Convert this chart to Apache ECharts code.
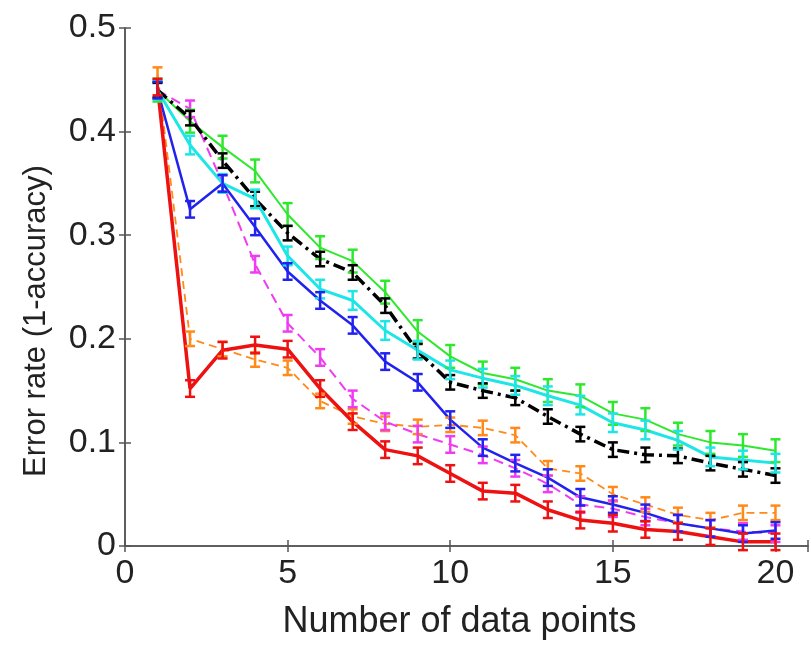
<!DOCTYPE html>
<html>
<head>
<meta charset="utf-8">
<script src="https://cdn.jsdelivr.net/npm/echarts@6/dist/echarts.min.js"></script>
<style>html,body{margin:0;padding:0;background:#fff;}#chart{width:811px;height:646px;}</style>
</head>
<body>
<div id="chart"></div>
<script>
// ---- data ----
const nPoints = [1,2,3,4,5,6,7,8,9,10,11,12,13,14,15,16,17,18,19,20];
const redSeries     = [0.443,0.152,0.189,0.194,0.190,0.152,0.120,0.093,0.087,0.070,0.053,0.051,0.035,0.025,0.022,0.016,0.014,0.009,0.004,0.004];
const orangeSeries  = [0.455,0.200,0.190,0.180,0.172,0.140,0.125,0.118,0.115,0.117,0.114,0.107,0.075,0.070,0.050,0.040,0.030,0.025,0.032,0.032];
const magentaSeries = [0.440,0.422,0.350,0.272,0.215,0.182,0.142,0.120,0.108,0.098,0.088,0.075,0.060,0.040,0.036,0.028,0.022,0.017,0.014,0.012];
const blueSeries    = [0.440,0.325,0.350,0.308,0.265,0.237,0.213,0.178,0.158,0.122,0.095,0.080,0.066,0.047,0.040,0.032,0.022,0.017,0.012,0.015];
const blackSeries   = [0.440,0.413,0.372,0.335,0.302,0.277,0.264,0.232,0.188,0.158,0.150,0.143,0.125,0.108,0.093,0.088,0.087,0.080,0.074,0.068];
const cyanSeries    = [0.440,0.387,0.350,0.335,0.280,0.248,0.237,0.208,0.189,0.170,0.162,0.155,0.145,0.136,0.119,0.112,0.102,0.086,0.083,0.080];
const greenSeries   = [0.440,0.410,0.385,0.362,0.320,0.288,0.275,0.245,0.207,0.183,0.167,0.161,0.150,0.145,0.128,0.122,0.108,0.100,0.097,0.092];
// error-bar half widths per series
const errHalf = {red:0.008, orange:0.007, magenta:0.008, blue:0.008, black:0.007, cyan:0.009, green:0.011};
const xTicks = [0,5,10,15,20];
const yTicks = [0,0.1,0.2,0.3,0.4,0.5];
const xTitle = 'Number of data points';
const yTitle = 'Error rate (1-accuracy)';

const defs = [
  {key:'orange',  data:orangeSeries,  color:'#ff8a1a', width:1.8, type:[8,5]},
  {key:'magenta', data:magentaSeries, color:'#f03cf0', width:2,   type:[10,6]},
  {key:'green',   data:greenSeries,   color:'#2ee82e', width:2,   type:'solid'},
  {key:'black',   data:blackSeries,   color:'#000000', width:3.5, type:[12,5,3,5]},
  {key:'cyan',    data:cyanSeries,    color:'#1ee6e6', width:3,   type:'solid'},
  {key:'blue',    data:blueSeries,    color:'#2222ee', width:2.5, type:'solid'},
  {key:'red',     data:redSeries,     color:'#ee1111', width:3.5, type:'solid'}
];

const series = [];
defs.forEach(d => {
  const pts = nPoints.map((x,i)=>[x, d.data[i]]);
  series.push({
    type:'line', data:pts, symbol:'none', z:2,
    lineStyle:{color:d.color, width:d.width, type:d.type},
    animation:false
  });
  const e = errHalf[d.key];
  series.push({
    type:'custom', z:3, animation:false,
    data: nPoints.map((x,i)=>[x, d.data[i]-e, d.data[i]+e]),
    renderItem:function(params, api){
      const x = api.value(0);
      const lo = api.coord([x, api.value(1)]);
      const hi = api.coord([x, api.value(2)]);
      const cw = 5;
      const st = {stroke:d.color, lineWidth:2.5};
      return {type:'group', children:[
        {type:'line', shape:{x1:lo[0],y1:lo[1],x2:hi[0],y2:hi[1]}, style:st},
        {type:'line', shape:{x1:lo[0]-cw,y1:lo[1],x2:lo[0]+cw,y2:lo[1]}, style:st},
        {type:'line', shape:{x1:hi[0]-cw,y1:hi[1],x2:hi[0]+cw,y2:hi[1]}, style:st}
      ]};
    }
  });
});

const axisLineStyle = {color:'#555', width:1.5};
const font = 'Liberation Sans, Arial, sans-serif';
const chart = echarts.init(document.getElementById('chart'));
chart.setOption({
  backgroundColor:'#fff',
  animation:false,
  grid:{left:125, right:0, top:28, bottom:100, containLabel:false},
  graphic:[
    {type:'text', x:36, y:321, rotation:Math.PI/2,
     style:{text:yTitle, font:'31px Liberation Sans, Arial, sans-serif', fill:'#222', align:'center', verticalAlign:'middle'}}
  ],
  xAxis:[
    {type:'value', min:0, max:21, interval:5, position:'bottom',
     axisLine:{show:true, lineStyle:axisLineStyle},
     axisTick:{show:true, inside:true, length:6, lineStyle:axisLineStyle},
     splitLine:{show:false},
     axisLabel:{show:true, fontSize:34, fontFamily:font, color:'#222', margin:11,
       formatter:v => xTicks.includes(v) ? String(v) : ''},
     name:xTitle, nameLocation:'middle', nameGap:58,
     nameTextStyle:{fontSize:36, fontFamily:font, color:'#222', padding:[0,14,0,0]}},
    {type:'value', min:0, max:21, interval:5, position:'top',
     axisLine:{show:true, lineStyle:axisLineStyle},
     axisTick:{show:true, inside:true, length:6, lineStyle:axisLineStyle},
     axisLabel:{show:false}, splitLine:{show:false}}
  ],
  yAxis:[
    {type:'value', min:0, max:0.5, interval:0.1, position:'left',
     axisLine:{show:true, lineStyle:axisLineStyle},
     axisTick:{show:true, inside:true, length:6, lineStyle:axisLineStyle},
     splitLine:{show:false},
     axisLabel:{show:true, fontSize:34, fontFamily:font, color:'#222', margin:9,
       formatter:v => { const t = yTicks.find(k=>Math.abs(k-v)<1e-9); return t===undefined?'':String(t); }}},
    {type:'value', min:0, max:0.5, interval:0.1, position:'right',
     axisLine:{show:true, lineStyle:axisLineStyle},
     axisTick:{show:true, inside:true, length:6, lineStyle:axisLineStyle},
     axisLabel:{show:false}, splitLine:{show:false}}
  ],
  series:series
});
</script>
</body>
</html>
